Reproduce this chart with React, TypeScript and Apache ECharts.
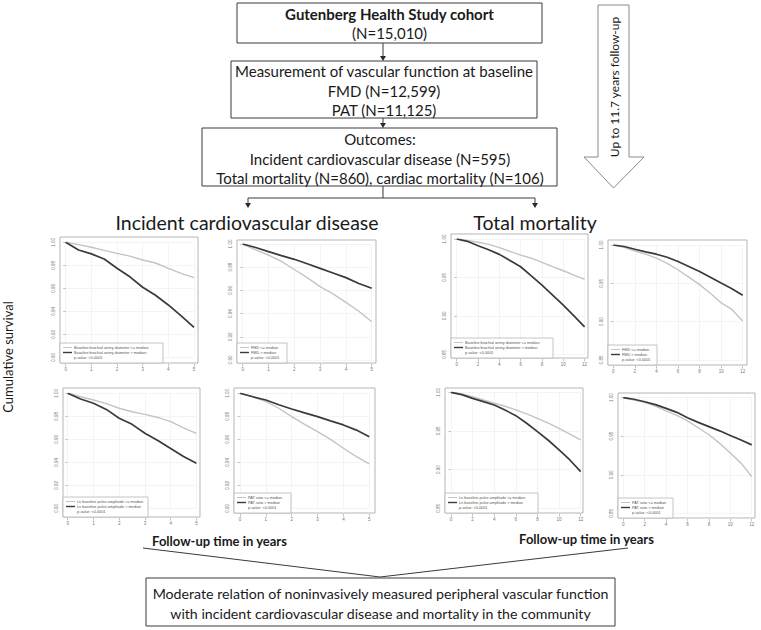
import React, { useEffect, useRef } from "react";
import * as echarts from "echarts";

// ---------- data ----------
const cvdYears = [0, 0.5, 1, 1.5, 2, 2.5, 3, 3.5, 4, 4.5, 5];
const mortYears = [0, 1, 2, 3, 4, 5, 6, 7, 8, 9, 10, 11, 12];

// CVD – baseline brachial artery diameter
const cvdBrachialLow = [1.0, 0.998, 0.9957, 0.993, 0.9904, 0.988, 0.9846, 0.982, 0.9774, 0.973, 0.9693];
const cvdBrachialHigh = [1.0, 0.9933, 0.9899, 0.9855, 0.9774, 0.97, 0.9609, 0.954, 0.9455, 0.936, 0.926];
// CVD – FMD
const cvdFmdLow = [1.0, 0.995, 0.9905, 0.985, 0.978, 0.971, 0.9632, 0.957, 0.9497, 0.942, 0.933];
const cvdFmdHigh = [1.0, 0.997, 0.9934, 0.99, 0.9868, 0.983, 0.979, 0.975, 0.971, 0.966, 0.9618];
// Mortality – baseline brachial artery diameter
const mortBrachialLow = [1.0, 0.998, 0.9957, 0.993, 0.9887, 0.984, 0.979, 0.975, 0.9696, 0.964, 0.9587, 0.953, 0.9474];
const mortBrachialHigh = [1.0, 0.997, 0.9913, 0.986, 0.98, 0.972, 0.9639, 0.952, 0.94, 0.927, 0.9139, 0.9, 0.8857];
// Mortality – FMD
const mortFmdLow = [1.0, 0.997, 0.9922, 0.988, 0.9828, 0.976, 0.9677, 0.958, 0.9483, 0.937, 0.9246, 0.916, 0.9009];
const mortFmdHigh = [1.0, 0.998, 0.9944, 0.991, 0.988, 0.984, 0.9784, 0.972, 0.9655, 0.958, 0.9504, 0.943, 0.9345];
// CVD – Ln baseline pulse amplitude
const cvdPaLow = [1.0, 0.997, 0.9942, 0.991, 0.987, 0.984, 0.9817, 0.979, 0.9754, 0.97, 0.9652];
const cvdPaHigh = [1.0, 0.995, 0.9913, 0.986, 0.9783, 0.973, 0.9652, 0.959, 0.952, 0.945, 0.9391];
// CVD – PAT ratio
const cvdPatLow = [1.0, 0.997, 0.9928, 0.987, 0.9797, 0.973, 0.9667, 0.96, 0.9522, 0.945, 0.9386];
const cvdPatHigh = [1.0, 0.997, 0.9942, 0.99, 0.9864, 0.983, 0.9797, 0.976, 0.9725, 0.968, 0.9623];
// Mortality – Ln baseline pulse amplitude
const mortPaLow = [1.0, 0.998, 0.9944, 0.99, 0.9858, 0.982, 0.9772, 0.972, 0.9664, 0.96, 0.9534, 0.946, 0.9384];
const mortPaHigh = [1.0, 0.997, 0.9922, 0.988, 0.9836, 0.977, 0.9698, 0.96, 0.9491, 0.938, 0.9254, 0.9125, 0.8974];
// Mortality – PAT ratio
const mortPatLow = [1.0, 0.997, 0.994, 0.989, 0.9828, 0.977, 0.97, 0.961, 0.9519, 0.941, 0.9282, 0.9151, 0.8978];
const mortPatHigh = [1.0, 0.998, 0.9948, 0.991, 0.9862, 0.981, 0.974, 0.968, 0.9625, 0.957, 0.9509, 0.945, 0.9388];

const cvdYRange = [0.9, 1.0, 0.02];
const mortYRange = [0.85, 1.0, 0.05];
const cvdXRange = [0, 5, 1];
const mortXRange = [0, 12, 2];

const brachialLabels = ["Baseline brachial artery diameter <= median", "Baseline brachial artery diameter > median"];
const fmdLabels = ["FMD <= median", "FMD > median"];
const paLabels = ["Ln baseline pulse amplitude <= median", "Ln baseline pulse amplitude > median"];
const patLabels = ["PAT ratio <= median", "PAT ratio > median"];
const pValueLabel = "p-value: <0.0001";

const flowBox1 = ["Gutenberg Health Study cohort", "(N=15,010)"];
const flowBox2 = ["Measurement of vascular function at baseline", "FMD (N=12,599)", "PAT (N=11,125)"];
const flowBox3 = ["Outcomes:", "Incident cardiovascular disease (N=595)", "Total mortality (N=860), cardiac mortality (N=106)"];
const sectionTitles = ["Incident cardiovascular disease", "Total mortality"];
const followUpArrowText = "Up to 11.7 years follow-up";
const yTitle = "Cumulative survival";
const xTitle = "Follow-up time in years";
const conclusion = [
  "Moderate relation of noninvasively measured peripheral vascular function",
  "with incident cardiovascular disease and mortality in the community",
];

// ---------- layout ----------
const W = 761;
const H = 630;
const LIGHT = "#c4c4c4";
const DARK = "#3a3a3a";
const FONT = "Lato";

type Plot = {
  frame: number[]; // l, t, r, b
  px: number[]; // pixel of x min / x max
  py: number[]; // pixel of y max / y min
  years: number[];
  low: number[];
  high: number[];
  labels: string[];
  legW: number;
  kind: "cvd" | "mort";
};

const plots: Plot[] = [
  { frame: [60, 237, 198, 363], px: [65.7, 194], py: [242.3, 357.3], years: cvdYears, low: cvdBrachialLow, high: cvdBrachialHigh, labels: brachialLabels, legW: 103, kind: "cvd" },
  { frame: [237, 240, 376, 363], px: [242.7, 371.7], py: [244, 360], years: cvdYears, low: cvdFmdLow, high: cvdFmdHigh, labels: fmdLabels, legW: 50, kind: "cvd" },
  { frame: [451, 234, 588, 358], px: [456.7, 584.6], py: [239, 354.3], years: mortYears, low: mortBrachialLow, high: mortBrachialHigh, labels: brachialLabels, legW: 102, kind: "mort" },
  { frame: [608, 240, 747, 365], px: [613.3, 742.7], py: [245, 360], years: mortYears, low: mortFmdLow, high: mortFmdHigh, labels: fmdLabels, legW: 49, kind: "mort" },
  { frame: [63, 388, 200, 517], px: [67.7, 196.4], py: [393.3, 508.3], years: cvdYears, low: cvdPaLow, high: cvdPaHigh, labels: paLabels, legW: 85, kind: "cvd" },
  { frame: [234, 388, 375, 513], px: [240, 369.3], py: [393.3, 508.3], years: cvdYears, low: cvdPatLow, high: cvdPatHigh, labels: patLabels, legW: 57, kind: "cvd" },
  { frame: [445, 388, 583, 513], px: [451, 580.7], py: [392.3, 508.3], years: mortYears, low: mortPaLow, high: mortPaHigh, labels: paLabels, legW: 93, kind: "mort" },
  { frame: [618, 393, 755, 518], px: [623.3, 751.7], py: [397.7, 513.3], years: mortYears, low: mortPatLow, high: mortPatHigh, labels: patLabels, legW: 55, kind: "mort" },
];

const txt = (t: string, x: number, y: number, size: number, extra: any = {}, el: any = {}) => ({
  type: "text",
  x,
  y,
  silent: true,
  z: 20,
  ...el,
  style: { text: t, fontSize: size, fontFamily: FONT, fill: "#1a1a1a", align: "center", verticalAlign: "middle", ...extra },
});
const ln = (x1: number, y1: number, x2: number, y2: number, stroke = "#3a3a3a", lineWidth = 1, z = 20) => ({
  type: "line",
  silent: true,
  z,
  shape: { x1, y1, x2, y2 },
  style: { stroke, lineWidth },
});
const box = (x: number, y: number, w: number, h: number, stroke = "#3a3a3a", z = 15) => ({
  type: "rect",
  silent: true,
  z,
  shape: { x, y, width: w, height: h },
  style: { fill: "#fff", stroke, lineWidth: 1 },
});
const arrowDown = (x: number, y1: number, y2: number) => [
  ln(x, y1, x, y2 - 3),
  { type: "polygon", silent: true, z: 20, shape: { points: [[x - 3, y2 - 5], [x + 3, y2 - 5], [x, y2]] }, style: { fill: "#2a2a2a" } },
];

function buildOption() {
  const grid = plots.map((p) => ({
    left: p.px[0],
    right: W - p.px[1],
    top: p.py[0],
    bottom: H - p.py[1],
    containLabel: false,
  }));
  const xAxis = plots.map((p, i) => {
    const r = p.kind === "cvd" ? cvdXRange : mortXRange;
    return {
      type: "value",
      gridIndex: i,
      min: r[0],
      max: r[1],
      interval: r[2],
      offset: p.frame[3] - p.py[1] + 1,
      axisLine: { show: false },
      axisTick: { show: true, length: 2.5, lineStyle: { color: "#9a9a9a", width: 0.6 } },
      axisLabel: { fontSize: 4.5, color: "#777", margin: 3, fontFamily: "Liberation Sans" },
      splitLine: { show: true, lineStyle: { color: "#ededed", width: 0.6 } },
    };
  });
  const yAxis = plots.map((p, i) => {
    const r = p.kind === "cvd" ? cvdYRange : mortYRange;
    return {
      type: "value",
      gridIndex: i,
      min: r[0],
      max: r[1],
      interval: r[2],
      offset: p.px[0] - p.frame[0] + 1,
      axisLine: { show: false },
      axisTick: { show: true, length: 2.5, lineStyle: { color: "#9a9a9a", width: 0.6 } },
      axisLabel: {
        fontSize: 4.5,
        color: "#777",
        margin: 3,
        rotate: 90,
        fontFamily: "Liberation Sans",
        formatter: (v: number) => v.toFixed(2),
      },
      splitLine: { show: true, lineStyle: { color: "#ededed", width: 0.6 } },
    };
  });
  const series: any[] = [];
  plots.forEach((p, i) => {
    series.push({
      type: "line",
      name: p.labels[0],
      xAxisIndex: i,
      yAxisIndex: i,
      data: p.years.map((x, k) => [x, p.low[k]]),
      showSymbol: false,
      symbol: "none",
      silent: true,
      lineStyle: { color: LIGHT, width: 1.4 },
      z: 3,
    });
    series.push({
      type: "line",
      name: p.labels[1],
      xAxisIndex: i,
      yAxisIndex: i,
      data: p.years.map((x, k) => [x, p.high[k]]),
      showSymbol: false,
      symbol: "none",
      silent: true,
      lineStyle: { color: DARK, width: 1.7 },
      z: 4,
    });
  });

  const g: any[] = [];
  // plot frames and legends
  plots.forEach((p) => {
    const [l, t, r, b] = p.frame;
    g.push({
      type: "rect",
      silent: true,
      z: 1,
      shape: { x: l, y: t, width: r - l, height: b - t },
      style: { fill: "none", stroke: "#b5b5b5", lineWidth: 1 },
    });
    const lh = 20;
    const ly = b - lh;
    g.push({
      type: "rect",
      silent: true,
      z: 10,
      shape: { x: l, y: ly, width: p.legW, height: lh },
      style: { fill: "#fff", stroke: "#b5b5b5", lineWidth: 0.8 },
    });
    g.push(ln(l + 3, ly + 4.5, l + 12, ly + 4.5, LIGHT, 1, 11));
    g.push(ln(l + 3, ly + 9.5, l + 12, ly + 9.5, DARK, 1.4, 11));
    g.push(txt(p.labels[0], l + 14, ly + 4.5, 3.8, { align: "left", fill: "#555", fontFamily: "Liberation Sans" }, { z: 11 }));
    g.push(txt(p.labels[1], l + 14, ly + 9.5, 3.8, { align: "left", fill: "#555", fontFamily: "Liberation Sans" }, { z: 11 }));
    g.push(txt(pValueLabel, l + 14, ly + 14.5, 3.8, { align: "left", fill: "#555", fontFamily: "Liberation Sans" }, { z: 11 }));
  });

  // flowchart
  g.push(box(237, 3, 305, 40));
  g.push(txt(flowBox1[0], 389.5, 14, 15, { fontWeight: "bold" }));
  g.push(txt(flowBox1[1], 389.5, 33, 15));
  g.push(...arrowDown(383, 43, 61));
  g.push(box(231, 61, 306, 57));
  g.push(txt(flowBox2[0], 384, 71, 15));
  g.push(txt(flowBox2[1], 384, 90.5, 15));
  g.push(txt(flowBox2[2], 384, 110, 15));
  g.push(...arrowDown(383, 118, 128));
  g.push(box(202, 128, 355, 58));
  g.push(txt(flowBox3[0], 380, 139, 15));
  g.push(txt(flowBox3[1], 380, 159, 15));
  g.push(txt(flowBox3[2], 380, 178, 15));
  g.push(ln(383, 186, 383, 198));
  g.push(ln(248, 198, 535, 198));
  g.push(...arrowDown(248, 198, 208));
  g.push(...arrowDown(535, 198, 208));

  // right follow-up arrow
  g.push({
    type: "polygon",
    silent: true,
    z: 15,
    shape: { points: [[598, 5], [629, 5], [629, 157], [644, 157], [613.5, 188], [584, 157], [598, 157]] },
    style: { fill: "#fff", stroke: "#8a8a8a", lineWidth: 1 },
  });
  g.push(txt(followUpArrowText, 614, 87, 12, {}, { rotation: Math.PI / 2 }));

  // section titles
  g.push(txt(sectionTitles[0], 247, 222, 19.5));
  g.push(txt(sectionTitles[1], 535, 222, 19.5));

  // axis titles
  g.push(txt(yTitle, 8, 357, 13, {}, { rotation: Math.PI / 2 }));
  g.push(txt(xTitle, 219.5, 541, 13, { fontWeight: "bold" }));
  g.push(txt(xTitle, 586.5, 539, 13, { fontWeight: "bold" }));

  // converging lines to conclusion
  g.push(ln(143, 548, 380, 577, "#3a3a3a", 1));
  g.push(ln(628, 548, 380, 577, "#3a3a3a", 1));

  // conclusion box
  g.push(box(146, 578, 469, 48, "#3a3a3a"));
  g.push(txt(conclusion[0], 380.5, 593, 14.2));
  g.push(txt(conclusion[1], 380.5, 613, 14.2));

  return {
    animation: false,
    backgroundColor: "#fff",
    grid,
    xAxis,
    yAxis,
    series,
    graphic: { elements: g },
  };
}

export default function App() {
  const ref = useRef<HTMLDivElement>(null);
  useEffect(() => {
    if (!ref.current) return;
    const chart = echarts.init(ref.current, undefined, { renderer: "svg", width: W, height: H });
    chart.setOption(buildOption() as any);
    return () => chart.dispose();
  }, []);
  return <div ref={ref} style={{ position: "fixed", left: 0, top: 0, width: W, height: H, background: "#fff" }} />;
}
